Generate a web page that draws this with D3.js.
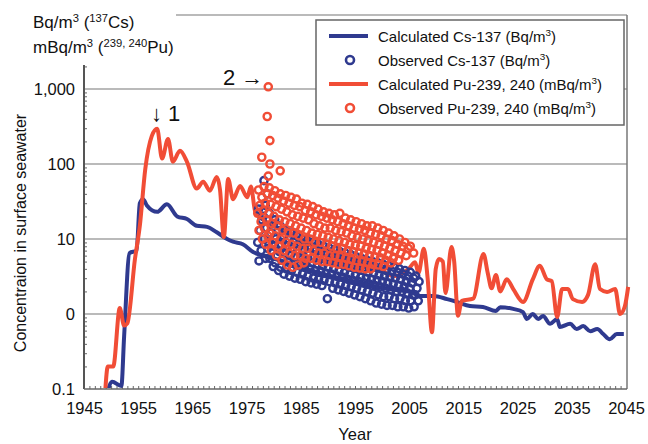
<!DOCTYPE html>
<html>
<head>
<meta charset="utf-8">
<script src="https://cdn.jsdelivr.net/npm/d3@7"></script>
<style>
  body { margin: 0; background: #fff; }
  text { font-family: "Liberation Sans", Arial, sans-serif; fill: #111; }
</style>
</head>
<body>
<div id="chart"></div>
<script>
// achsen
const xTicks = [1945, 1955, 1965, 1975, 1985, 1995, 2005, 2015, 2025, 2035, 2045];
const yTicks = [0.1, 1, 10, 100, 1000];
const yTickLabels = ["0.1", "0", "10", "100", "1,000"];

// berechnete kurven [jahr, wert]
const calcCs = [
  [1949.3, 0.09], [1950.2, 0.125], [1951.9, 0.11], [1952.4, 0.5], [1953.4, 6.5], [1954.7, 7],
  [1955.3, 30], [1955.9, 34], [1956.6, 28], [1958.5, 23], [1960.3, 29], [1962.2, 20],
  [1964, 18.5], [1965.8, 15], [1967.7, 14.5], [1969.5, 12.3], [1971.4, 10], [1972.5, 9.2],
  [1974.3, 8.5], [1976.2, 6.7], [1978, 6], [1982, 5], [1986, 4], [1990, 3.3], [1994, 2.8],
  [1998, 2.4], [2002, 2.1], [2005, 2], [2007, 1.74], [2009.5, 1.74], [2012, 1.58],
  [2013.8, 1.45], [2016.2, 1.28], [2018.6, 1.24], [2021, 1.1], [2021.8, 1.23], [2024.2, 1.17],
  [2026, 1.06], [2026.7, 0.86], [2027.8, 1.0], [2028.8, 0.86], [2029.7, 0.94], [2031, 0.74],
  [2032.3, 0.86], [2032.8, 0.67], [2034.7, 0.74], [2035.9, 0.63], [2037.1, 0.69], [2038.4, 0.59],
  [2039.7, 0.63], [2040.8, 0.54], [2042, 0.46], [2043.3, 0.54], [2044.6, 0.54]
];

const calcPu = [
  [1948.9, 0.09], [1949.4, 0.2], [1950.4, 0.2], [1951.6, 1.2], [1952.4, 0.7], [1953, 0.75],
  [1954.4, 5.4], [1955.3, 15], [1956.3, 85], [1957.5, 235], [1958.5, 295], [1959.4, 118],
  [1960.5, 215], [1961.4, 107], [1962.7, 150], [1964, 107], [1965.8, 47], [1967, 58],
  [1968.2, 44], [1969.5, 67], [1970.1, 45], [1970.8, 10.6], [1971.6, 63], [1972.5, 34],
  [1973.8, 51], [1975.1, 36], [1975.8, 50], [1976.6, 23], [1980, 15], [1983, 12], [1986, 9],
  [1990, 7], [1994, 5.5], [1998, 4.5], [2002.5, 3.2], [2004.9, 4], [2006.1, 4.9], [2006.7, 3.5],
  [2007.7, 7.4], [2008.4, 3], [2009.2, 0.57], [2009.9, 4], [2010.5, 5.4], [2011.2, 5],
  [2011.7, 1.9], [2012.8, 7.8], [2013.3, 5], [2014, 0.95], [2014.7, 1.5], [2016.8, 1.6],
  [2018.7, 6.3], [2019.5, 3.5], [2020.2, 2.2], [2021, 3.3], [2021.8, 2], [2023, 2.9],
  [2024.2, 2.15], [2026, 1.45], [2027.8, 2.9], [2029.1, 4.4], [2030.4, 2.9], [2031.3, 2.75],
  [2032.3, 0.91], [2033.2, 2.15], [2034.3, 2.15], [2035.2, 1.58], [2036.9, 1.45], [2038, 1.8],
  [2039.3, 4.6], [2040.2, 2.15], [2041.5, 1.97], [2043, 2.15], [2043.9, 1.0], [2044.8, 1.28],
  [2045.4, 2.3]
];

// beobachtete werte je jahr
const obsCs = [
  [1977, [25, 18, 13, 9, 7, 5.1]],
  [1978, [60, 40, 28, 20, 14, 10, 7.5, 5.5]],
  [1979, [22, 16, 12, 9, 7, 5.5, 4.3]],
  [1980, [18, 13, 10, 8, 6, 4.8, 3.8]],
  [1981, [15, 11, 8.5, 6.8, 5.3, 4.2, 3.4]],
  [1982, [13, 10, 8, 6.3, 5, 4, 3.2]],
  [1983, [12, 9.5, 7.5, 6, 4.8, 3.8, 3]],
  [1984, [11, 9, 7, 5.6, 4.5, 3.6, 2.9]],
  [1985, [10, 8.5, 6.8, 5.3, 4.3, 3.4, 2.7]],
  [1986, [9.5, 8, 6.4, 5, 4, 3.2, 2.6]],
  [1987, [9, 7.5, 6, 4.8, 3.8, 3, 2.5]],
  [1988, [8.5, 7, 5.7, 4.6, 3.7, 2.9, 2.4]],
  [1989, [8, 6.6, 5.4, 4.4, 3.5, 2.8, 1.6]],
  [1990, [7.6, 6.3, 5.1, 4.2, 3.4, 2.7, 2.2]],
  [1991, [7.2, 6, 4.9, 4, 3.2, 2.6, 2.1]],
  [1992, [6.8, 5.6, 4.6, 3.8, 3.1, 2.5, 2]],
  [1993, [6.5, 5.3, 4.4, 3.6, 2.9, 2.4, 1.9]],
  [1994, [6.2, 5, 4.2, 3.4, 2.8, 2.3, 1.8]],
  [1995, [5.8, 4.8, 4, 3.3, 2.7, 2.2, 1.7]],
  [1996, [5.5, 4.6, 3.8, 3.1, 2.6, 2.1, 1.6]],
  [1997, [5.2, 4.4, 3.6, 3, 2.5, 2, 1.5]],
  [1998, [5, 4.2, 3.5, 2.9, 2.4, 1.9, 1.4]],
  [1999, [4.8, 4, 3.3, 2.8, 2.3, 1.8, 1.35]],
  [2000, [4.6, 3.8, 3.2, 2.7, 2.2, 1.7, 1.3]],
  [2001, [4.4, 3.7, 3.1, 2.6, 2.1, 1.7, 1.3]],
  [2002, [4.2, 3.6, 3, 2.5, 2, 1.6, 1.25]],
  [2003, [4, 3.4, 2.9, 2.4, 2, 1.6, 1.25]],
  [2004, [3.8, 3.2, 2.7, 2.3, 1.9, 1.5, 1.2]],
  [2005, [3.6, 3, 2.6, 2.2, 1.8, 1.5, 1.25]],
  [2006, [3.2, 2.7, 2.2, 1.8, 1.5]]
];

const obsPu = [
  [1977, [45, 36, 28, 22, 17, 13, 10]],
  [1978, [50, 40, 30, 24, 18, 14, 11, 8.5]],
  [1979, [48, 38, 29, 22, 16, 12, 9, 7]],
  [1980, [44, 35, 27, 20, 15, 11, 8, 6]],
  [1981, [40, 32, 25, 18, 13, 10, 7, 5.2]],
  [1982, [38, 30, 23, 17, 12, 9, 6.5, 4.5]],
  [1983, [36, 28, 21, 16, 12, 8.5, 6, 4.2]],
  [1984, [34, 27, 20, 15, 11, 8, 6, 4.5]],
  [1985, [30, 24, 19, 14, 10, 7.5, 5.5, 4.8]],
  [1986, [29, 23, 18, 13, 10, 7.5, 5.5]],
  [1987, [27, 21, 16, 12, 9, 7, 5.2]],
  [1988, [25, 20, 15, 11.5, 9, 6.5, 5]],
  [1989, [23, 19, 14, 11, 8.5, 6.5, 5]],
  [1990, [22, 18, 14, 10.5, 8, 6, 4.8]],
  [1991, [21, 17, 13, 10, 7.5, 6, 4.6]],
  [1992, [22, 16, 12.5, 9.5, 7.5, 5.8, 4.6]],
  [1993, [19, 15, 12, 9, 7, 5.5, 4.4]],
  [1994, [18, 14, 11, 8.5, 6.8, 5.3, 4.2]],
  [1995, [17, 13.5, 10.5, 8.2, 6.5, 5.1, 4.1]],
  [1996, [16, 13, 10, 8, 6.3, 5, 4]],
  [1997, [15, 12, 9.5, 7.5, 6, 4.8, 4]],
  [1998, [15, 11.5, 9, 7.2, 5.8, 4.6]],
  [1999, [14, 11, 8.5, 7, 5.6, 4.5]],
  [2000, [13, 10, 8, 6.5, 5.2, 4.3]],
  [2001, [12, 9.5, 7.5, 6, 4.8]],
  [2002, [11, 8.5, 7, 5.5]],
  [2003, [10, 8, 6.5, 5.2]],
  [2004, [9, 7.5, 6]],
  [2005, [8, 6.5]]
];

// einzelne hohe messwerte um 1978
const obsPuPeak = [[1977.8, 123], [1978.8, 430], [1979.0, 1070], [1979.3, 205], [1979.3, 100], [1981.2, 81], [1979.0, 69]];

const blue = "#2f3a8f";
const red = "#f14d36";

const svg = d3.select("#chart").append("svg")
  .attr("width", 648)
  .attr("height", 444);

const x = d3.scaleLinear().domain([1945, 2045]).range([84, 626]);
const y = d3.scaleLog().domain([0.1, 10000]).range([389, 14]);

// gitternetz
svg.append("g")
  .selectAll("line")
  .data(yTicks.slice(1))
  .enter().append("line")
  .attr("x1", x(1945)).attr("x2", 627)
  .attr("y1", d => y(d)).attr("y2", d => y(d))
  .attr("stroke", "#a3a3a3")
  .attr("stroke-width", 1.5);

// rahmen oben und rechts
svg.append("line")
  .attr("x1", 176).attr("x2", 627).attr("y1", 15).attr("y2", 15)
  .attr("stroke", "#a3a3a3").attr("stroke-width", 1.5);
svg.append("line")
  .attr("x1", 627).attr("x2", 627).attr("y1", 15).attr("y2", y(0.1))
  .attr("stroke", "#777").attr("stroke-width", 1.5);

// kleine ticks
const minorY = [];
for (let k = -1; k < 4; k++) for (let m = 2; m < 10; m++) {
  const v = m * Math.pow(10, k);
  if (y(v) >= 65) minorY.push(v);
}
svg.append("g")
  .attr("transform", `translate(${x(1945)},0)`)
  .call(d3.axisLeft(y).tickValues(minorY).tickSize(-3).tickFormat(""))
  .call(g => g.select(".domain").remove())
  .selectAll("line").attr("stroke", "#666");

svg.append("g")
  .attr("transform", `translate(0,${y(0.1)})`)
  .call(d3.axisBottom(x).tickValues(d3.range(1946, 2045)).tickSize(-3).tickFormat(""))
  .call(g => g.select(".domain").remove())
  .selectAll("line").attr("stroke", "#666");

// achsenbeschriftung
svg.append("g")
  .attr("transform", `translate(0,${y(0.1)})`)
  .call(d3.axisBottom(x).tickValues(xTicks).tickSize(0).tickPadding(13).tickFormat(d3.format("d")))
  .call(g => g.select(".domain").remove())
  .selectAll("text").attr("font-size", 16.5).attr("fill", "#111");

svg.append("g")
  .attr("transform", `translate(${x(1945) - 9},0)`)
  .call(d3.axisLeft(y).tickValues(yTicks).tickSize(0).tickPadding(0).tickFormat((d, i) => yTickLabels[i]))
  .call(g => g.select(".domain").remove())
  .selectAll("text").attr("font-size", 16.5).attr("fill", "#111");

// achsenlinien
svg.append("line")
  .attr("x1", x(1945)).attr("x2", x(1945)).attr("y1", 65).attr("y2", y(0.1))
  .attr("stroke", "#555").attr("stroke-width", 2);
svg.append("line")
  .attr("x1", x(1945)).attr("x2", 627).attr("y1", y(0.1)).attr("y2", y(0.1))
  .attr("stroke", "#666").attr("stroke-width", 1.5);

// clip fuer die kurven
svg.append("clipPath").attr("id", "plot")
  .append("rect").attr("x", x(1945)).attr("y", 15).attr("width", 560).attr("height", y(0.1) - 16);

const line = d3.line().x(d => x(d[0])).y(d => y(d[1])).curve(d3.curveMonotoneX);

const curves = svg.append("g").attr("clip-path", "url(#plot)");
curves.append("path").datum(calcCs).attr("d", line)
  .attr("fill", "none").attr("stroke", blue).attr("stroke-width", 4).attr("stroke-linejoin", "round");
curves.append("path").datum(calcPu).attr("d", line)
  .attr("fill", "none").attr("stroke", red).attr("stroke-width", 4).attr("stroke-linejoin", "round");

// messpunkte ueber das jahr verteilt (gestaffelt statt in spalten)
function spread(rows) {
  const pts = [];
  rows.forEach(r => r[1].forEach((v, i) => pts.push([r[0] + ((i * 0.618 + 0.2) % 1), v])));
  return pts;
}

function drawObs(pts, color) {
  curves.append("g")
    .selectAll("circle")
    .data(pts)
    .enter().append("circle")
    .attr("cx", d => x(d[0]))
    .attr("cy", d => y(d[1]))
    .attr("r", 3.6)
    .attr("fill", "none")
    .attr("stroke", color)
    .attr("stroke-width", 2.4);
}

drawObs(spread(obsCs), blue);
drawObs(spread(obsPu).concat(obsPuPeak), red);

// text mit hochgestellten teilen
function richText(sel, parts, size) {
  parts.forEach(p => {
    const sup = p[1] === true;
    sel.append("tspan")
      .attr("font-size", sup ? size * 0.66 : size)
      .attr("dy", sup ? -size * 0.38 : (p.prevSup ? size * 0.38 : 0))
      .text(p[0]);
  });
}
function parts(list) {
  // setzt prevSup, damit die grundlinie wieder stimmt
  return list.map((p, i) => {
    const o = [p[0], p[1]];
    o.prevSup = i > 0 && list[i - 1][1] === true && p[1] !== true;
    return o;
  });
}

// einheiten oben links
richText(svg.append("text").attr("x", 33).attr("y", 28),
  parts([["Bq/m"], ["3", true], [" ("], ["137", true], ["Cs)"]]), 17);
richText(svg.append("text").attr("x", 33).attr("y", 53),
  parts([["mBq/m"], ["3", true], [" ("], ["239, 240", true], ["Pu)"]]), 17);

// achsentitel
svg.append("text")
  .attr("transform", "translate(26,233) rotate(-90)")
  .attr("text-anchor", "middle")
  .attr("font-size", 16)
  .text("Concentraion in surface seawater");

svg.append("text")
  .attr("x", 355).attr("y", 440)
  .attr("text-anchor", "middle")
  .attr("font-size", 16.5)
  .text("Year");

// markierungen 1 und 2
svg.append("text").attr("x", 151).attr("y", 121).attr("font-size", 22).text("\u2193 1");
svg.append("text").attr("x", 223).attr("y", 85).attr("font-size", 22).text("2 \u2192");

// legende
const legend = svg.append("g");
legend.append("rect")
  .attr("x", 316).attr("y", 20).attr("width", 308).attr("height", 105)
  .attr("fill", "#fff").attr("stroke", "#666").attr("stroke-width", 1.5);

const legendItems = [
  { kind: "line", color: blue, label: [["Calculated Cs-137 (Bq/m"], ["3", true], [")"]] },
  { kind: "circle", color: blue, label: [["Observed Cs-137 (Bq/m"], ["3", true], [")"]] },
  { kind: "line", color: red, label: [["Calculated Pu-239, 240 (mBq/m"], ["3", true], [")"]] },
  { kind: "circle", color: red, label: [["Observed Pu-239, 240 (mBq/m"], ["3", true], [")"]] }
];

legendItems.forEach((it, i) => {
  const cy = 36 + i * 24;
  if (it.kind === "line") {
    legend.append("line")
      .attr("x1", 329).attr("x2", 368).attr("y1", cy).attr("y2", cy)
      .attr("stroke", it.color).attr("stroke-width", 4);
  } else {
    legend.append("circle")
      .attr("cx", 350).attr("cy", cy).attr("r", 4)
      .attr("fill", "none").attr("stroke", it.color).attr("stroke-width", 2.6);
  }
  richText(legend.append("text").attr("x", 378).attr("y", cy + 5.5), parts(it.label), 15);
});
</script>
</body>
</html>
